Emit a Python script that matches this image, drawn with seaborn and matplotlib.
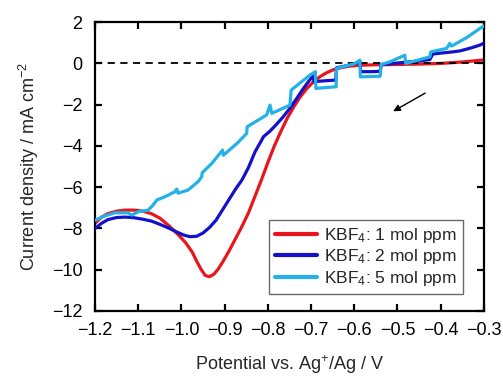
import numpy as np
import pandas as pd
import matplotlib
matplotlib.use("Agg")
import matplotlib.pyplot as plt
import seaborn as sns

# ---- data ----
red_x = [-1.200, -1.185, -1.170, -1.150, -1.130, -1.110, -1.090, -1.070, -1.050, -1.030,
         -1.010, -0.990, -0.975, -0.965, -0.955, -0.945, -0.935, -0.925, -0.915, -0.905,
         -0.890, -0.875, -0.860, -0.845, -0.830, -0.815, -0.800, -0.785, -0.770, -0.755,
         -0.740, -0.725, -0.710, -0.695, -0.680, -0.665, -0.650, -0.630, -0.610, -0.590,
         -0.560, -0.500, -0.450, -0.400, -0.350, -0.300]
red_y = [-7.75, -7.45, -7.28, -7.16, -7.11, -7.11, -7.16, -7.28, -7.50, -7.85,
         -8.25, -8.70, -9.15, -9.58, -9.97, -10.28, -10.34, -10.22, -9.97, -9.64,
         -9.10, -8.50, -7.90, -7.25, -6.45, -5.65, -4.80, -4.00, -3.30, -2.65,
         -2.10, -1.62, -1.22, -0.90, -0.65, -0.46, -0.32, -0.20, -0.13, -0.09,
         -0.07, -0.05, -0.03, 0.00, 0.07, 0.17]

blue_x = [-1.200, -1.185, -1.170, -1.150, -1.130, -1.110, -1.090, -1.070, -1.050, -1.030,
          -1.010, -0.995, -0.980, -0.965, -0.950, -0.935, -0.920, -0.905, -0.890, -0.875,
          -0.860, -0.845, -0.830, -0.810, -0.795, -0.780, -0.765, -0.750, -0.735, -0.718,
          -0.705, -0.695, -0.693, -0.680, -0.660, -0.643, -0.641, -0.620, -0.600, -0.590,
          -0.587, -0.585, -0.560, -0.540, -0.538, -0.500, -0.450, -0.425, -0.418, -0.372,
          -0.355, -0.330, -0.309, -0.300]
blue_y = [-8.00, -7.75, -7.57, -7.47, -7.45, -7.48, -7.55, -7.64, -7.80, -7.98,
          -8.18, -8.32, -8.40, -8.38, -8.22, -7.95, -7.60, -7.10, -6.60, -6.10,
          -5.65, -5.05, -4.30, -3.55, -3.28, -2.95, -2.60, -2.20, -1.75, -1.22,
          -0.85, -0.60, -0.89, -0.86, -0.83, -0.81, -0.21, -0.12, -0.02, 0.06,
          0.10, -0.40, -0.40, -0.38, -0.06, 0.02, 0.12, 0.19, 0.46, 0.56,
          0.61, 0.75, 0.89, 0.98]

cyan_x = [-1.200, -1.177, -1.154, -1.124, -1.115, -1.100, -1.077, -1.066, -1.057, -1.038,
          -1.015, -1.011, -1.008, -0.985, -0.962, -0.953, -0.952, -0.930, -0.911, -0.905,
          -0.903, -0.870, -0.849, -0.848, -0.803, -0.795, -0.791, -0.749, -0.746, -0.703,
          -0.690, -0.689, -0.642, -0.641, -0.600, -0.587, -0.586, -0.540, -0.538, -0.517,
          -0.483, -0.481, -0.425, -0.423, -0.386, -0.379, -0.375, -0.340, -0.309, -0.300]
cyan_y = [-7.60, -7.39, -7.24, -7.24, -7.35, -7.19, -7.11, -6.87, -6.62, -6.46,
          -6.22, -6.09, -6.29, -6.14, -5.74, -5.49, -5.30, -4.85, -4.36, -4.20,
          -4.45, -3.85, -3.39, -3.07, -2.50, -2.02, -2.42, -2.02, -1.29, -0.57,
          -0.40, -1.21, -1.13, -0.24, -0.02, 0.16, -0.65, -0.62, -0.05, 0.08,
          0.40, 0.00, 0.32, 0.56, 0.73, 0.97, 0.84, 1.25, 1.70, 1.82]

series_labels = ["KBF$_4$: 1 mol ppm", "KBF$_4$: 2 mol ppm", "KBF$_4$: 5 mol ppm"]
colors = ["#E8161C", "#1212CC", "#22B2E8"]

x_ticks = [-1.2, -1.1, -1.0, -0.9, -0.8, -0.7, -0.6, -0.5, -0.4, -0.3]
y_ticks = [2, 0, -2, -4, -6, -8, -10, -12]

# ---- build long table ----
frames = []
for lab, xs, ys in zip(series_labels, [red_x, blue_x, cyan_x], [red_y, blue_y, cyan_y]):
    frames.append(pd.DataFrame({"E": xs, "J": ys, "series": lab}))
df = pd.concat(frames, ignore_index=True)

sns.set_theme(style="ticks")
plt.rcParams["font.family"] = ["Liberation Sans", "DejaVu Sans"]
plt.rcParams["mathtext.fontset"] = "custom"
plt.rcParams["mathtext.rm"] = "Liberation Sans"
plt.rcParams["mathtext.it"] = "Liberation Sans:italic"
plt.rcParams["mathtext.bf"] = "Liberation Sans:bold"

fig = plt.figure(figsize=(5.03, 3.76), dpi=100)
ax = fig.add_axes([0.189, 0.173, 0.773, 0.768])

zorders = [2, 3, 4]
for lab, col, z in zip(series_labels, colors, zorders):
    sub = df[df["series"] == lab]
    sns.lineplot(data=sub, x="E", y="J", color=col, lw=2.3, sort=False,
                 estimator=None, ax=ax, label=lab, zorder=z)

ax.axhline(0, color="black", ls=(0, (4, 3)), lw=1.3, zorder=2.5)

ax.annotate("", xy=(-0.510, -2.32), xytext=(-0.436, -1.44),
            arrowprops=dict(arrowstyle="-|>", color="black", lw=1.0,
                            mutation_scale=10, shrinkA=0, shrinkB=0))

ax.set_xlim(-1.2, -0.3)
ax.set_ylim(-12, 2)
ax.set_xticks(x_ticks)
ax.set_yticks(y_ticks)
ax.set_xticklabels([f"{v:.1f}".replace("-", "\u2212") for v in x_ticks])
ax.set_yticklabels([f"{v:d}".replace("-", "\u2212") for v in y_ticks])

for s in ax.spines.values():
    s.set_linewidth(1.6)
    s.set_color("black")
ax.tick_params(direction="in", length=5, width=1.6, top=True, right=True,
               labelsize=13, colors="black")
ax.tick_params(axis="x", pad=8)
ax.tick_params(axis="y", pad=9)

ax.set_xlabel("Potential vs. Ag$^{+}$/Ag / V", fontsize=13, labelpad=10)
ax.set_ylabel("Current density / mA cm$^{\u22122}$", fontsize=13, labelpad=8)

leg = ax.legend(loc="lower right", bbox_to_anchor=(0.946, 0.059), borderaxespad=0,
                fontsize=12.5, frameon=True, fancybox=False, handlelength=2.4,
                handletextpad=0.4, borderpad=0.35, labelspacing=0.15)
leg.get_frame().set_edgecolor("#444444")
leg.get_frame().set_linewidth(1.0)
for h in leg.get_lines():
    h.set_linewidth(3.0)

fig.savefig("out.png", dpi=100)
